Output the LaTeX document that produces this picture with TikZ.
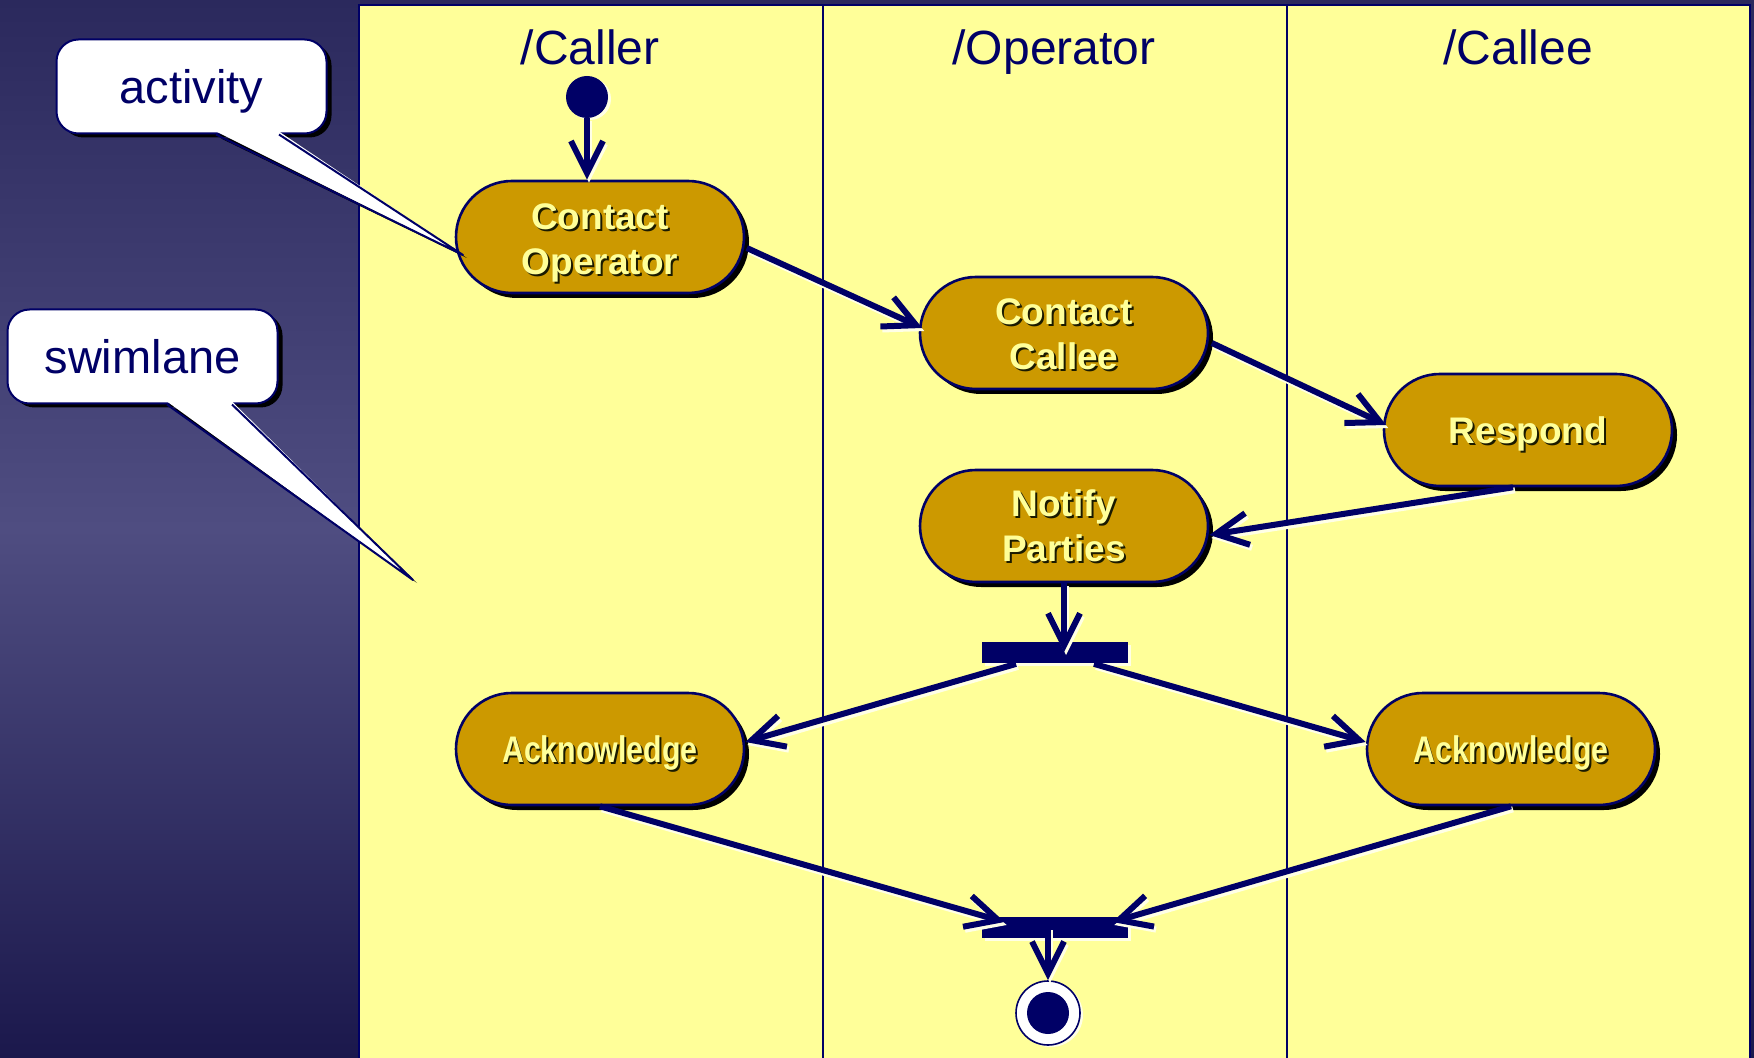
\documentclass[tikz,border=0pt]{standalone}
\usepackage{fontspec}
\setmainfont{Liberation Sans}
\usetikzlibrary{arrows.meta,calc,shapes.misc,shadows}

\definecolor{navy}{HTML}{000066}
\definecolor{lanefill}{HTML}{FFFF99}
\definecolor{gold}{HTML}{CC9900}
\definecolor{pale}{HTML}{FFFFE6}
\definecolor{txtfg}{HTML}{FFFF99}
\definecolor{txtshade}{HTML}{1A1A00}
\definecolor{bgtop}{HTML}{2B295D}
\definecolor{bgmid}{HTML}{4F4D81}
\definecolor{bgbot}{HTML}{1B184C}

% light text with a dark drop shadow
\newcommand{\shd}[1]{\makebox[0pt][l]{\hspace{1pt}\raisebox{-1pt}{\color{txtshade}#1}}{\color{txtfg}#1}}
% activity label block, lowered by #1 while keeping its nominal size
\newcommand{\actlabel}[2]{\raisebox{-#1}[\height][\depth]{\begin{tabular}{@{}c@{}}#2\end{tabular}}}

\tikzset{
  activity/.style={rounded rectangle, draw=navy, line width=1.3pt, fill=gold,
    minimum width=144pt, minimum height=56pt, inner sep=0pt, align=center,
    font=\fontsize{18.5}{22.5}\selectfont\bfseries,
    drop shadow={shadow xshift=2.5pt, shadow yshift=-2.5pt, opacity=1, fill=black}},
  note/.style={rectangle, rounded corners=11pt, draw=navy, line width=1pt, fill=white,
    minimum width=135pt, minimum height=47pt, text depth=0pt,
    font=\fontsize{23.5}{28}\selectfont, text=navy,
    drop shadow={shadow xshift=2.5pt, shadow yshift=-2pt, opacity=1, fill=black}},
  lanehead/.style={anchor=base, font=\fontsize{24}{28}\selectfont, text=navy},
  bar/.style={rectangle, fill=navy, minimum width=73pt, minimum height=10.5pt, inner sep=0pt,
    drop shadow={shadow xshift=1.5pt, shadow yshift=-1.5pt, opacity=1, fill=pale}},
  flowtip/.style={-{Straight Barb[length=16pt,width=16pt]}},
  flow/.style={draw=navy, line width=3pt, flowtip},
  flowshade/.style={draw=pale, line width=3pt, flowtip, transform canvas={shift={(1pt,-1.5pt)}}},
}

% a transition: pale offset stroke underneath, navy arrow on top
\newcommand{\transition}[2]{%
  \draw[flowshade] #1 -- #2;
  \draw[flow] #1 -- #2;}

\begin{document}
\begin{tikzpicture}[x=0.5pt, y=-0.5pt]
  \useasboundingbox (0,0) rectangle (1754,1058);

  % backdrop
  \shade[top color=bgtop, bottom color=bgbot, middle color=bgmid] (0,0) rectangle (1754,1058);

  % swimlane panel and dividers
  \draw[navy, line width=1.2pt, fill=lanefill] (359,5) rectangle (1750,1080);
  \draw[navy, line width=1pt] (823,5) -- (823,1080);
  \draw[navy, line width=1pt] (1287,5) -- (1287,1080);

  % lane titles
  \node[lanehead] (hcaller) at (590,65) {/Caller};
  \node[lanehead] (hoperator) at (1054,65) {/Operator};
  \node[lanehead] (hcallee) at (1518,65) {/Callee};

  % start state
  \node[circle, fill=navy, minimum size=21pt, inner sep=0pt,
        drop shadow={shadow xshift=1.5pt, shadow yshift=-1pt, opacity=1, fill=pale}] (init) at (587,97) {};

  % activities
  \node[activity] (co) at (600,237) {\actlabel{2.8pt}{\shd{Contact}\\\shd{Operator}}};
  \node[activity] (cc) at (1064,333) {\actlabel{2.5pt}{\shd{Contact}\\\shd{Callee}}};
  \node[activity] (resp) at (1528,430) {\actlabel{2.2pt}{\shd{Respond}}};
  \node[activity] (notify) at (1064,526) {\actlabel{2pt}{\shd{Notify}\\\shd{Parties}}};
  \node[activity] (ackl) at (600,749) {\actlabel{2.2pt}{\scalebox{0.82}[1]{\shd{Acknowledge}}}};
  \node[activity] (ackr) at (1511,749) {\actlabel{2.2pt}{\scalebox{0.82}[1]{\shd{Acknowledge}}}};

  % synchronisation bars
  \node[bar] (fork) at (1055,652) {};
  \node[bar] (join) at (1055,927) {};

  % end state
  \node[circle, draw=navy, line width=0.8pt, fill=white, minimum size=32pt, inner sep=0pt,
        drop shadow={shadow xshift=1.5pt, shadow yshift=-1pt, opacity=1, fill=pale}] (final) at (1048,1013) {};
  \fill[navy] (final.center) circle[radius=10.5pt];

  % transitions
  \transition{(init)}{(init |- co.north)}
  \transition{($(co.east)+(1.5,11)$)}{($(cc.west)+(3.5,-5)$)}
  \transition{($(cc.east)+(2.5,10)$)}{($(resp.west)+(3.5,-5)$)}
  \transition{($(resp.south)+(-15,0)$)}{($(notify.east)+(0,9)$)}
  \transition{(notify.south)}{(notify.south |- fork.center)}
  \transition{($(fork.south)+(-39,1)$)}{($(ackl.east)+(0,-7)$)}
  \transition{($(fork.south)+(39,1)$)}{($(ackr.west)+(0,-7)$)}
  \transition{(ackl.south)}{($(join.west)+(23,-5)$)}
  \transition{(ackr.south)}{($(join.east)+(-16,-5)$)}
  \transition{(final |- join.center)}{(final.north)}

  % callouts
  \node[note] (actnote) at (191.5,86.5) {activity};
  \coordinate (acttip) at (463,255);
  \fill[black] ($(actnote.south)+(29.5,4)$) -- ($(acttip)+(4,3)$) -- ($(actnote.south)+(92.5,4)$) -- cycle;
  \fill[white] ($(actnote.south)+(24.5,-3)$) -- (acttip) -- ($(actnote.south)+(87.5,-3)$) -- cycle;
  \draw[navy, line width=1pt, line join=round] ($(actnote.south)+(24.5,0)$) -- (acttip) -- ($(actnote.south)+(87.5,0)$);

  \node[note] (lanenote) at (142.5,356.5) {swimlane};
  \coordinate (lanetip) at (413,580);
  \fill[black] ($(lanenote.south)+(29.5,4)$) -- ($(lanetip)+(4,3)$) -- ($(lanenote.south)+(94.5,4)$) -- cycle;
  \fill[white] ($(lanenote.south)+(24.5,-3)$) -- (lanetip) -- ($(lanenote.south)+(89.5,-3)$) -- cycle;
  \draw[navy, line width=1pt, line join=round] ($(lanenote.south)+(24.5,0)$) -- (lanetip) -- ($(lanenote.south)+(89.5,0)$);
\end{tikzpicture}
\end{document}
